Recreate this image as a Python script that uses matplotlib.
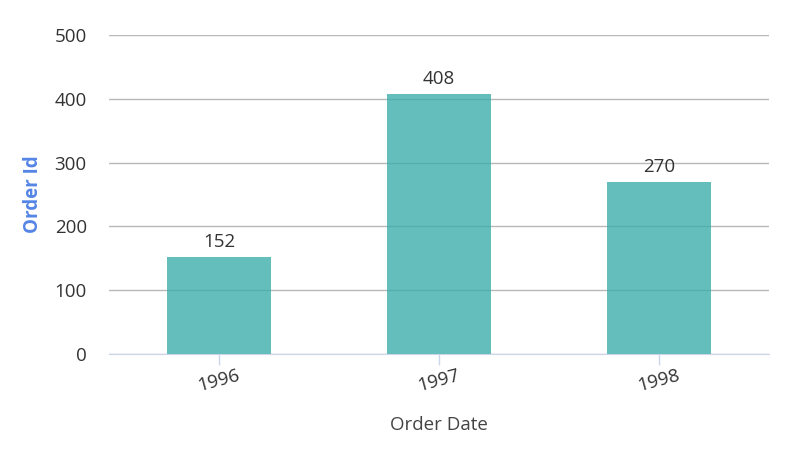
import matplotlib.pyplot as plt
import numpy as np

years = ['1996', '1997', '1998']
order_counts = [152, 408, 270]

plt.rcParams['font.family'] = ['Open Sans', 'DejaVu Sans']

fig = plt.figure(figsize=(8.11, 4.54), dpi=100)
ax = fig.add_axes([109 / 811, 100 / 454, 660 / 811, 319 / 454])

x = np.arange(len(years))
bars = ax.bar(x, order_counts, width=0.47, color='#3DAEAA', alpha=0.8, zorder=3)

# value labels above bars
for xi, v in zip(x, order_counts):
    ax.annotate(str(v), (xi, v), xytext=(0, 4), textcoords='offset points',
                ha='center', va='bottom', fontsize=13.5, color='#333333', zorder=4)

ax.set_xlim(-0.5, 2.5)
ax.set_ylim(0, 500)
ax.set_yticks([0, 100, 200, 300, 400, 500])
ax.set_xticks(x)
ax.set_xticklabels(years, rotation=15, ha='center')

ax.grid(axis='y', color='#b8b8b8', linewidth=1, zorder=1)
ax.set_axisbelow(True)
for side in ['top', 'right', 'left']:
    ax.spines[side].set_visible(False)
ax.spines['bottom'].set_color('#ccd6eb')
ax.spines['bottom'].set_zorder(5)

ax.tick_params(axis='y', length=0, pad=16, labelsize=13.5, labelcolor='#333333')
ax.tick_params(axis='x', length=8, width=1, color='#ccd6eb', pad=1,
               labelsize=13.5, labelcolor='#333333')

ax.set_ylabel('Order Id', fontsize=13.5, fontweight='bold', color='#5585e5', labelpad=8)
ax.set_xlabel('Order Date', fontsize=13.5, color='#444444', labelpad=15)

plt.savefig('out.png', dpi=100)
